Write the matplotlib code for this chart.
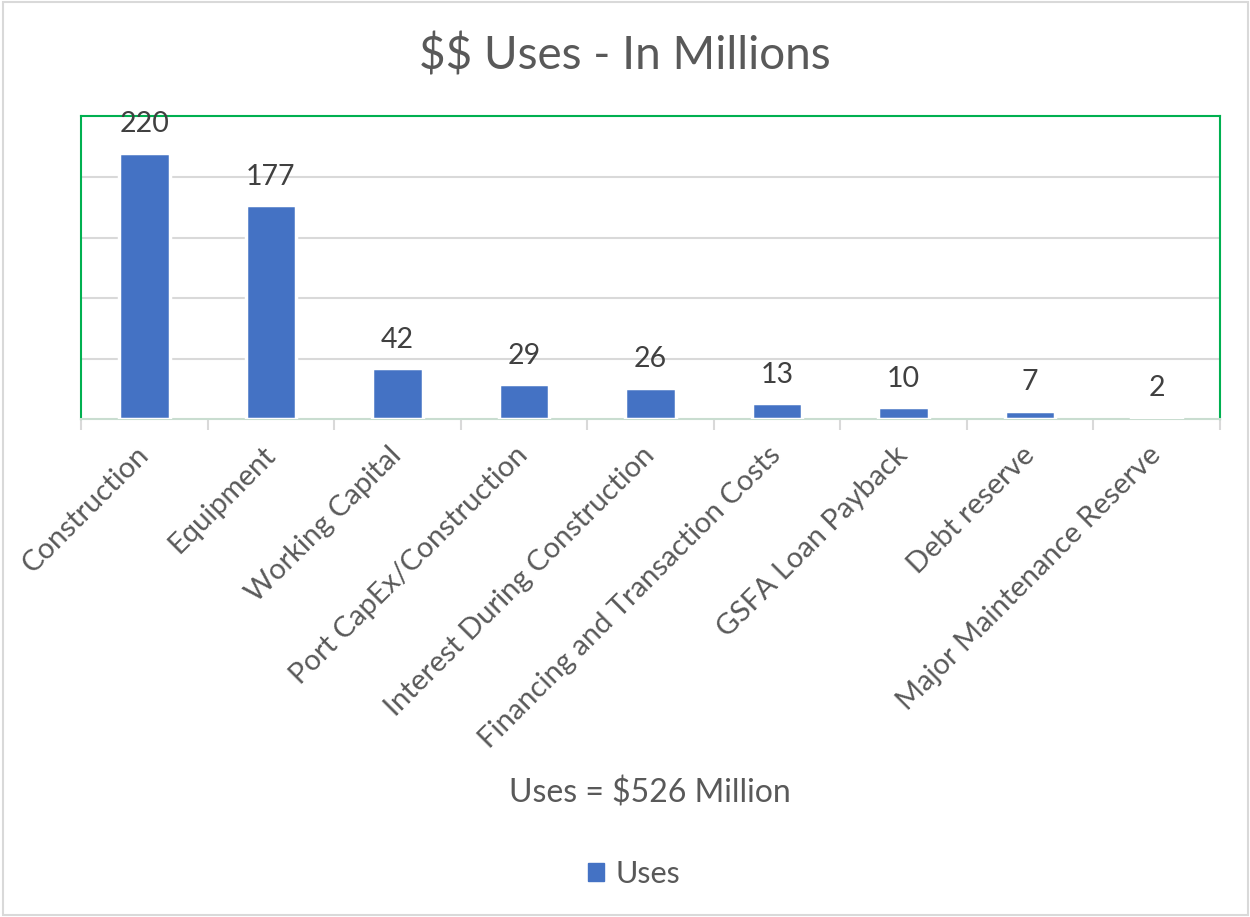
import matplotlib.pyplot as plt
import numpy as np
from matplotlib.patches import Rectangle, Patch

categories = ['Construction', 'Equipment', 'Working Capital', 'Port CapEx/Construction',
              'Interest During Construction', 'Financing and Transaction Costs',
              'GSFA Loan Payback', 'Debt reserve', 'Major Maintenance Reserve']
uses = [220, 177, 42, 29, 26, 13, 10, 7, 2]

plt.rcParams['font.family'] = ['Lato', 'DejaVu Sans']
grey_text = '#595959'

fig = plt.figure(figsize=(12.5, 9.17), dpi=100)
fig.patches.append(Rectangle((0.002, 0.002), 0.996, 0.996, transform=fig.transFigure,
                             fill=False, edgecolor='#d9d9d9', linewidth=1.5))

ax = fig.add_axes([0.0648, 0.543, 0.9112, 0.330])
x = np.arange(len(categories))
bars = ax.bar(x, uses, width=0.4, color='#4472c4', edgecolor='white', linewidth=2.5,
              zorder=3, label='Uses')
ax.bar_label(bars, padding=11, fontsize=20.5, color='#404040')

ax.set_xlim(-0.5, len(categories) - 0.5)
ax.set_ylim(0, 250)
ax.set_yticks([50, 100, 150, 200])
ax.tick_params(axis='y', length=0, labelleft=False)
ax.yaxis.grid(True, color='#d9d9d9', linewidth=1.5, zorder=0)

ax.set_xticks(np.arange(-0.5, len(categories), 1))
ax.set_xticks(x, minor=True)
ax.set_xticklabels([])
ax.set_xticklabels(categories, minor=True, rotation=45, ha='right', va='center',
                   rotation_mode='anchor', fontsize=21, color=grey_text)
ax.tick_params(axis='x', which='major', length=8, color='#d9d9d9', width=1.5)
ax.tick_params(axis='x', which='minor', length=0, pad=23)

for s in ['left', 'right', 'top']:
    ax.spines[s].set_color('#00b050')
    ax.spines[s].set_linewidth(1.5)
ax.spines['bottom'].set_color('#c9ddd0')
ax.spines['bottom'].set_linewidth(1.5)

fig.text(0.5, 0.939, r'\$\$ Uses - In Millions', ha='center', va='center',
         fontsize=33, color=grey_text)
fig.text(0.52, 0.135, r'Uses = \$526 Million', ha='center', va='center',
         fontsize=23, color=grey_text)
fig.legend(handles=[Patch(color='#4472c4', label='Uses')], loc='center',
           bbox_to_anchor=(0.507, 0.047), frameon=False, fontsize=22,
           handlelength=0.55, handleheight=0.55, handletextpad=0.35,
           labelcolor=grey_text)

fig.savefig('out.png', dpi=100)
